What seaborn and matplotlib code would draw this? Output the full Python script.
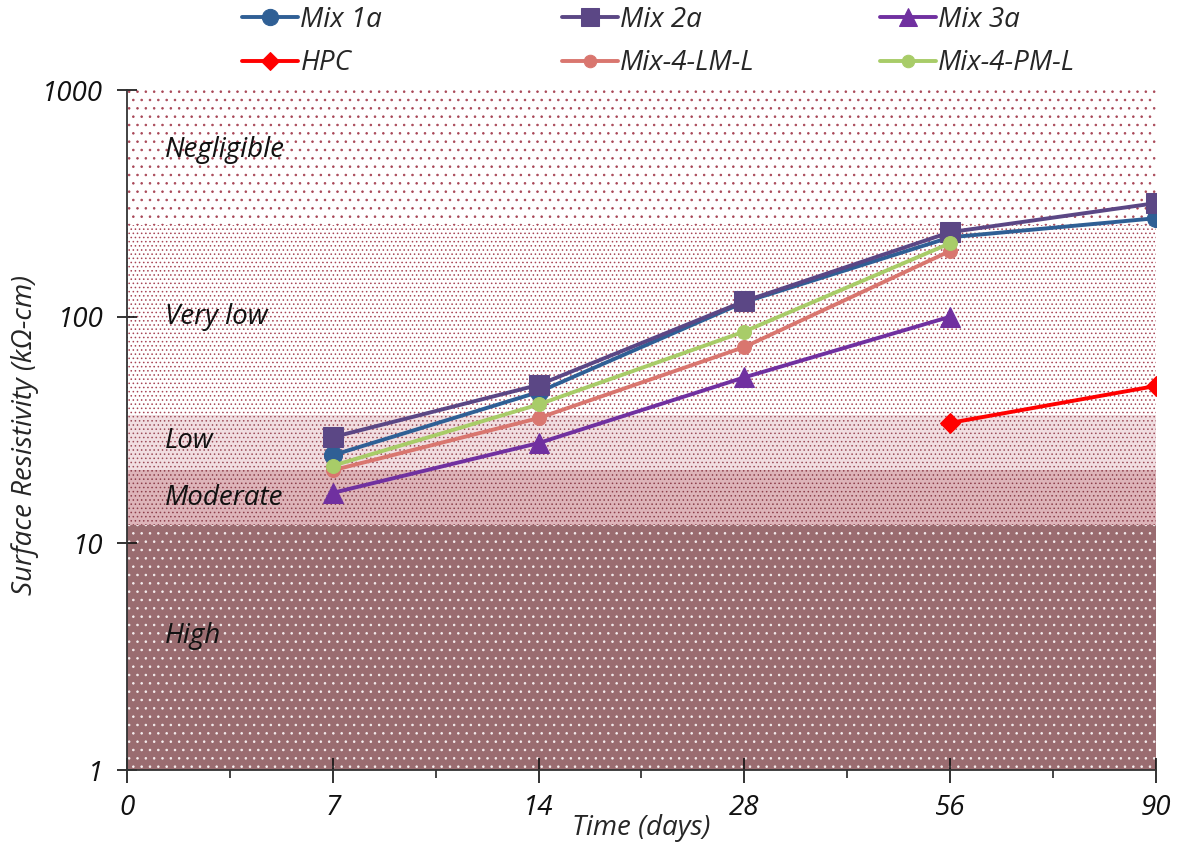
"""
Surface resistivity over time, with chloride-penetration risk bands (log scale).
"""

import matplotlib

matplotlib.use("Agg")
import matplotlib.pyplot as plt
import numpy as np
import pandas as pd
import seaborn as sns

# --- Data (kOhm-cm) ---
days = ["0", "7", "14", "28", "56", "90"]
mix_1a = [np.nan, 24.5, 46.5, 116, 224, 272]
mix_2a = [np.nan, 29.4, 50, 117, 236, 317]
mix_3a = [np.nan, 16.7, 27.7, 54, 100, np.nan]
hpc = [np.nan, np.nan, np.nan, np.nan, 34, 49.5]
mix_4_lm_l = [np.nan, 21, 35.7, 73.5, 195, np.nan]
mix_4_pm_l = [np.nan, 22, 41, 86, 211, np.nan]

# risk band limits (AASHTO T358 style) and their labels
band_edges = [1, 12, 21, 37, 254, 1000]
band_names = ["High", "Moderate", "Low", "Very low", "Negligible"]
band_label_y = [3.9, 15.8, 28.3, 100, 543]

series = {
    "Mix 1a": mix_1a,
    "Mix 2a": mix_2a,
    "Mix 3a": mix_3a,
    "HPC": hpc,
    "Mix-4-LM-L": mix_4_lm_l,
    "Mix-4-PM-L": mix_4_pm_l,
}
styles = {
    "Mix 1a": dict(color="#2F5F95", marker="o", markersize=13),
    "Mix 2a": dict(color="#5B4785", marker="s", markersize=14),
    "Mix 3a": dict(color="#7030A0", marker="^", markersize=14),
    "HPC": dict(color="#FF0000", marker="D", markersize=10),
    "Mix-4-LM-L": dict(color="#D9766F", marker="o", markersize=10),
    "Mix-4-PM-L": dict(color="#A8CC68", marker="o", markersize=10),
}
# fill / hatch look of each band, bottom to top
band_looks = [
    dict(facecolor="#9A6C70", edgecolor="#F6F0F0", hatch=".."),
    dict(facecolor="#DDB4B9", edgecolor="#8E3F4C", hatch="...."),
    dict(facecolor="#F1DEE1", edgecolor="#9E4D5A", hatch="...."),
    dict(facecolor="white", edgecolor="#A84656", hatch="...."),
    dict(facecolor="white", edgecolor="#A84656", hatch=".."),
]

sns.set_style("white")
plt.rcParams["font.family"] = ["Open Sans", "DejaVu Sans"]
plt.rcParams["font.style"] = "italic"
plt.rcParams["font.size"] = 20
plt.rcParams["hatch.linewidth"] = 0.6

FS = 20

fig = plt.figure(figsize=(11.78, 8.46), dpi=100)
ax = fig.add_axes([0.1078, 0.0898, 0.8735, 0.8038])

# background risk bands
for (lo, hi), look in zip(zip(band_edges[:-1], band_edges[1:]), band_looks):
    ax.axhspan(lo, hi, linewidth=0, zorder=0, **look)
for name, yv in zip(band_names, band_label_y):
    ax.text(0.185, yv, name, fontsize=FS, style="italic", va="center", ha="left",
            color="#111111", zorder=1)

# long-form frame for seaborn
rows = []
for name, vals in series.items():
    for i, v in enumerate(vals):
        if not np.isnan(v):
            rows.append({"series": name, "pos": i, "value": v})
df = pd.DataFrame(rows)

for name in series:
    sub = df[df["series"] == name]
    st = styles[name]
    sns.lineplot(
        data=sub, x="pos", y="value", ax=ax, label=name,
        color=st["color"], marker=st["marker"], markersize=st["markersize"],
        markeredgecolor=st["color"], linewidth=2.8, zorder=3,
    )

ax.set_yscale("log")
ax.set_ylim(1, 1000)
ax.set_xlim(0, 5)
ax.set_xticks(range(len(days)))
ax.set_xticklabels(days)
ax.set_xticks(np.arange(0.5, 5, 1), minor=True)
ax.set_yticks([1, 10, 100, 1000])
ax.set_yticklabels(["1", "10", "100", "1000"])
ax.yaxis.set_minor_locator(matplotlib.ticker.NullLocator())

ax.tick_params(axis="x", which="major", direction="inout", length=18, width=1.2,
               pad=8, labelsize=FS, colors="#111111")
ax.tick_params(axis="x", which="minor", direction="out", length=6, width=1.2)
ax.tick_params(axis="y", which="major", direction="inout", length=14, width=1.2,
               pad=10, labelsize=FS, colors="#111111")
ax.tick_params(bottom=True, left=True, which="both")

for side in ["top", "right"]:
    ax.spines[side].set_visible(False)
for side in ["left", "bottom"]:
    ax.spines[side].set_color("#333333")
    ax.spines[side].set_linewidth(1.3)

ax.set_xlabel("Time (days)", fontsize=FS, style="italic")
ax.xaxis.set_label_coords(0.5, -0.085)
ax.xaxis.label.set_verticalalignment("center")
ax.set_ylabel("Surface Resistivity (kΩ-cm)", fontsize=FS, style="italic")
ax.yaxis.set_label_coords(-0.099, 0.493)
ax.yaxis.label.set_verticalalignment("center")

# Excel-style legend: equal width columns above the plot
handles, labels = ax.get_legend_handles_labels()
ax.get_legend().remove()
lookup = dict(zip(labels, handles))
columns = [("Mix 1a", "HPC"), ("Mix 2a", "Mix-4-LM-L"), ("Mix 3a", "Mix-4-PM-L")]
col_x = [242, 562, 880]
for names, x0 in zip(columns, col_x):
    fig.legend(
        [lookup[n] for n in names], list(names),
        loc="upper left", bbox_to_anchor=(x0 / 1178, 1 - 6 / 846),
        frameon=False, fontsize=FS, borderpad=0, borderaxespad=0,
        handlelength=2.0, handletextpad=0.1, labelspacing=0.55, markerscale=0.9,
    )

fig.savefig("out.png", dpi=100)
